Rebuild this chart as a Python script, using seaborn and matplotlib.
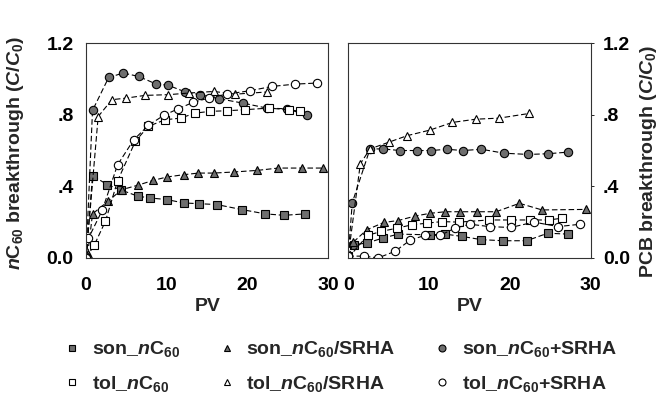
import numpy as np
import pandas as pd
import matplotlib
matplotlib.use("Agg")
import matplotlib.pyplot as plt
import seaborn as sns
from matplotlib.lines import Line2D

# ---------------- data ----------------
series_names = ["son_nC60", "son_nC60/SRHA", "son_nC60+SRHA",
                "tol_nC60", "tol_nC60/SRHA", "tol_nC60+SRHA"]
legend_labels = [r"son_$\mathit{n}$C$_{60}$", r"son_$\mathit{n}$C$_{60}$/SRHA",
                 r"son_$\mathit{n}$C$_{60}$+SRHA", r"tol_$\mathit{n}$C$_{60}$",
                 r"tol_$\mathit{n}$C$_{60}$/SRHA", r"tol_$\mathit{n}$C$_{60}$+SRHA"]

# Left panel: nC60 breakthrough
nc_son_pv = [0.0, 0.8, 2.6, 4.3, 6.4, 7.9, 10.0, 12.1, 14.0, 16.2, 19.3, 22.2, 24.5, 27.1]
nc_son_c = [0.0, 0.46, 0.41, 0.38, 0.345, 0.335, 0.326, 0.307, 0.303, 0.298, 0.27, 0.246, 0.238, 0.246]
nc_sonS_pv = [0.2, 0.8, 2.7, 4.4, 6.4, 8.3, 10.0, 12.1, 13.9, 15.8, 18.3, 21.2, 23.8, 26.7, 29.3]
nc_sonS_c = [0.02, 0.246, 0.316, 0.381, 0.406, 0.433, 0.452, 0.465, 0.474, 0.474, 0.48, 0.489, 0.502, 0.502, 0.502]
nc_sonP_pv = [0.0, 0.8, 2.8, 4.6, 6.5, 8.6, 10.2, 12.3, 14.1, 16.5, 19.4, 22.4, 24.9, 27.4]
nc_sonP_c = [0.0, 0.824, 1.008, 1.033, 1.014, 0.973, 0.964, 0.927, 0.912, 0.889, 0.865, 0.837, 0.833, 0.796]
nc_tol_pv = [0.0, 1.0, 2.4, 3.9, 6.1, 7.7, 9.8, 11.7, 13.5, 15.4, 17.4, 19.7, 22.6, 25.1, 26.5]
nc_tol_c = [0.0, 0.07, 0.205, 0.43, 0.651, 0.735, 0.772, 0.781, 0.809, 0.819, 0.822, 0.828, 0.837, 0.828, 0.819]
nc_tolS_pv = [0.0, 1.5, 3.2, 5.0, 7.3, 10.2, 12.7, 15.8, 18.5, 22.4]
nc_tolS_c = [0.0, 0.79, 0.884, 0.893, 0.908, 0.912, 0.921, 0.93, 0.915, 0.927]
nc_tolP_pv = [0.0, 0.3, 2.0, 3.9, 5.9, 7.7, 9.6, 11.4, 13.3, 15.2, 17.4, 20.3, 23.0, 25.9, 28.6]
nc_tolP_c = [0.0, 0.11, 0.266, 0.52, 0.66, 0.74, 0.796, 0.833, 0.87, 0.893, 0.915, 0.934, 0.958, 0.971, 0.977]

# Right panel: PCB breakthrough
pcb_son_pv = [0.0, 0.7, 2.3, 4.3, 6.2, 10.1, 12.0, 14.1, 16.5, 19.2, 22.1, 24.7, 27.2]
pcb_son_c = [0.01, 0.074, 0.083, 0.111, 0.133, 0.129, 0.133, 0.12, 0.102, 0.096, 0.096, 0.138, 0.133]
pcb_sonS_pv = [0.0, 0.6, 2.3, 4.4, 6.2, 8.3, 10.1, 12.0, 13.9, 15.9, 18.3, 21.2, 24.0, 29.4]
pcb_sonS_c = [0.0, 0.087, 0.157, 0.198, 0.209, 0.234, 0.249, 0.258, 0.258, 0.258, 0.258, 0.305, 0.268, 0.271]
pcb_sonP_pv = [0.0, 0.5, 2.7, 4.3, 6.4, 8.5, 10.3, 12.2, 14.2, 16.5, 19.3, 22.3, 24.7, 27.2]
pcb_sonP_c = [0.01, 0.308, 0.609, 0.609, 0.6, 0.6, 0.6, 0.607, 0.6, 0.607, 0.585, 0.578, 0.582, 0.591]
pcb_tol_pv = [0.0, 2.4, 4.1, 6.0, 7.9, 9.7, 11.6, 13.7, 17.4, 20.1, 22.5, 24.8, 26.5]
pcb_tol_c = [0.0, 0.126, 0.148, 0.166, 0.185, 0.194, 0.203, 0.2, 0.212, 0.212, 0.212, 0.212, 0.222]
pcb_tolS_pv = [0.0, 1.5, 2.7, 5.0, 7.3, 10.1, 12.9, 15.8, 18.7, 22.4]
pcb_tolS_c = [0.01, 0.526, 0.609, 0.646, 0.683, 0.714, 0.757, 0.775, 0.781, 0.807]
pcb_tolP_pv = [0.0, 1.9, 3.7, 5.8, 7.7, 9.5, 11.4, 13.2, 15.1, 17.5, 20.1, 23.0, 26.0, 28.7]
pcb_tolP_c = [0.01, 0.01, 0.0, 0.037, 0.1, 0.126, 0.126, 0.166, 0.188, 0.175, 0.17, 0.2, 0.175, 0.188]

x_ticks = [0, 10, 20, 30]
x_ticklabels = ["0", "10", "20", "30"]
y_ticks = [0.0, 0.4, 0.8, 1.2]
y_ticklabels = ["0.0", ".4", ".8", "1.2"]

left_data = [(nc_son_pv, nc_son_c), (nc_sonS_pv, nc_sonS_c), (nc_sonP_pv, nc_sonP_c),
             (nc_tol_pv, nc_tol_c), (nc_tolS_pv, nc_tolS_c), (nc_tolP_pv, nc_tolP_c)]
right_data = [(pcb_son_pv, pcb_son_c), (pcb_sonS_pv, pcb_sonS_c), (pcb_sonP_pv, pcb_sonP_c),
              (pcb_tol_pv, pcb_tol_c), (pcb_tolS_pv, pcb_tolS_c), (pcb_tolP_pv, pcb_tolP_c)]

def to_df(data, panel):
    rows = []
    for name, (xs, ys) in zip(series_names, data):
        for xv, yv in zip(xs, ys):
            rows.append({"panel": panel, "series": name, "PV": xv, "C": yv})
    return pd.DataFrame(rows)

df = pd.concat([to_df(left_data, "nC60"), to_df(right_data, "PCB")], ignore_index=True)

# ---------------- style ----------------
FONT = "Liberation Sans"
sns.set_theme(style="white")
plt.rcParams["font.family"] = [FONT, "DejaVu Sans"]
plt.rcParams["font.weight"] = "bold"
plt.rcParams["mathtext.fontset"] = "custom"
plt.rcParams["mathtext.rm"] = FONT + ":bold"
plt.rcParams["mathtext.it"] = FONT + ":bold:italic"
plt.rcParams["mathtext.bf"] = FONT + ":bold"

FS = 14

FILL = "#6e6e6e"
styles = {
    "son_nC60": dict(marker="s", markerfacecolor=FILL),
    "son_nC60/SRHA": dict(marker="^", markerfacecolor=FILL),
    "son_nC60+SRHA": dict(marker="o", markerfacecolor=FILL),
    "tol_nC60": dict(marker="s", markerfacecolor="white"),
    "tol_nC60/SRHA": dict(marker="^", markerfacecolor="white"),
    "tol_nC60+SRHA": dict(marker="o", markerfacecolor="white"),
}

fig = plt.figure(figsize=(6.62, 4.03), dpi=100)
axL = fig.add_axes([0.130, 0.360, 0.366, 0.533])
axR = fig.add_axes([0.526, 0.360, 0.366, 0.533])

for ax, panel in [(axL, "nC60"), (axR, "PCB")]:
    sub = df[df["panel"] == panel]
    for name in series_names:
        d = sub[sub["series"] == name]
        sns.lineplot(data=d, x="PV", y="C", ax=ax, color="black", linestyle=(0, (5, 2.5)),
                     linewidth=0.8, markersize=6, markeredgecolor="black",
                     markeredgewidth=0.8, **styles[name])
    ax.set_xlim(0, 30)
    ax.set_ylim(0, 1.2)
    ax.set_xticks(x_ticks)
    ax.set_xticklabels(x_ticklabels, fontsize=FS, fontweight="bold")
    ax.set_yticks(y_ticks)
    ax.set_yticklabels(y_ticklabels, fontsize=FS, fontweight="bold")
    ax.tick_params(axis="both", direction="out", length=2, width=0.6, colors="black")
    ax.tick_params(axis="x", pad=12)
    ax.tick_params(axis="y", pad=7)
    ax.set_xlabel("PV", fontsize=FS, fontweight="bold")
    ax.set_ylabel("")
    ax.xaxis.set_label_coords(0.5, -0.185)
    for s in ax.spines.values():
        s.set_color("#333333")
        s.set_linewidth(0.8)

axR.yaxis.tick_right()
axR.tick_params(axis="y", labelright=True, labelleft=False)

fig.text(0.024, 0.62, r"$\mathit{n}$C$_{60}$ breakthrough ($C/C_{0}$)", rotation=90,
         ha="center", va="center", fontsize=FS, fontweight="bold")
fig.text(0.980, 0.60, r"PCB breakthrough ($C/C_{0}$)", rotation=90,
         ha="center", va="center", fontsize=FS, fontweight="bold")

# legend (row-major order across 3 columns)
handles = {}
for name, lab in zip(series_names, legend_labels):
    handles[name] = Line2D([], [], linestyle="none", markersize=5, markeredgecolor="black",
                           markeredgewidth=0.8, label=lab, **styles[name])
order = ["son_nC60", "tol_nC60", "son_nC60/SRHA", "tol_nC60/SRHA", "son_nC60+SRHA", "tol_nC60+SRHA"]
fig.legend([handles[n] for n in order], [legend_labels[series_names.index(n)] for n in order],
           ncol=3, loc="center", bbox_to_anchor=(0.515, 0.09), frameon=False,
           prop={"size": FS, "weight": "bold"}, handlelength=0.8, handletextpad=0.6,
           columnspacing=2.0, labelspacing=0.75)

fig.savefig("out.png", dpi=100)
